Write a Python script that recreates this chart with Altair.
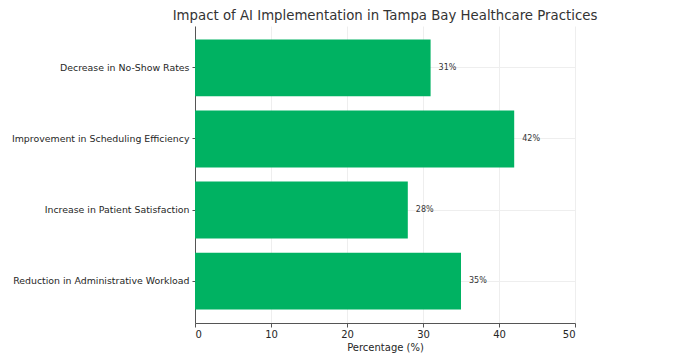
import altair as alt
import pandas as pd

categories = [
    "Decrease in No-Show Rates",
    "Improvement in Scheduling Efficiency",
    "Increase in Patient Satisfaction",
    "Reduction in Administrative Workload",
]
values = [31, 42, 28, 35]
labels = [f"{v}%" for v in values]

df = pd.DataFrame({"category": categories, "value": values, "label": labels})

font = "DejaVu Sans"

y = alt.Y("category:N", sort=categories, title=None,
          scale=alt.Scale(paddingInner=0.2, paddingOuter=0.19),
          axis=alt.Axis(labelFont=font, labelFontSize=9.4, labelColor="#262626", labelLimit=400,
                        domainColor="#555555", tickColor="#555555", tickSize=3,
                        grid=True, gridColor="#eeeeee", labelPadding=3))
x = alt.X("value:Q", title="Percentage (%)",
          scale=alt.Scale(domain=[0, 50], nice=False),
          axis=alt.Axis(values=[0, 10, 20, 30, 40, 50], labelFont=font, labelFontSize=10,
                        labelColor="#262626", titleFont=font, titleFontSize=10,
                        titleFontWeight="normal", titleColor="#262626",
                        domainColor="#555555", tickColor="#555555", tickSize=4,
                        grid=True, gridColor="#eeeeee", titlePadding=3))

bars = alt.Chart(df).mark_bar(color="#00b262").encode(x=x, y=y)
text = alt.Chart(df).mark_text(align="left", dx=8, font=font, fontSize=8, color="#333333").encode(
    x="value:Q", y=alt.Y("category:N", sort=categories), text="label:N")

chart = (bars + text).properties(
    width=380, height=297,
    title=alt.TitleParams("Impact of AI Implementation in Tampa Bay Healthcare Practices",
                          font=font, fontSize=13.3, fontWeight="normal", color="#333333",
                          anchor="middle", offset=4),
    autosize=alt.AutoSizeParams(type="none"),
    padding={"left": 187, "top": 18, "right": 100, "bottom": 30},
).configure_view(stroke=None)

chart.save("out.html", embed_options={"renderer": "svg", "actions": False})
